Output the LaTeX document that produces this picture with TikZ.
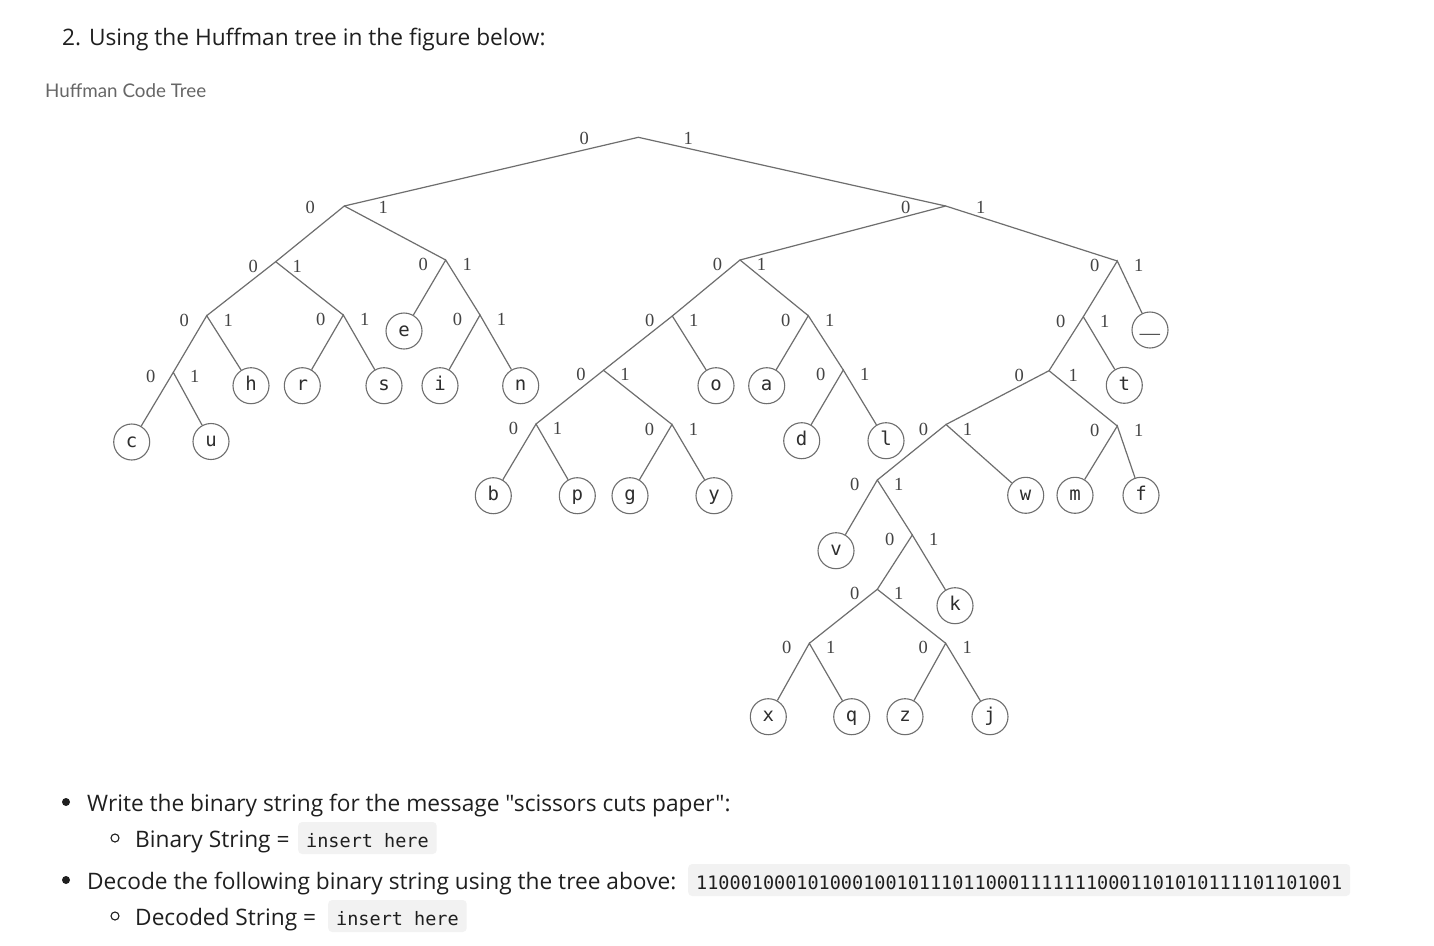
\documentclass[tikz,border=0pt]{standalone}
\usepackage{fontspec}
\usetikzlibrary{calc}
\setmainfont{Open Sans}[Ligatures=TeXOff]
\newfontfamily\capfont{Lato}
\newfontfamily\monofont{DejaVu Sans Mono}
\newfontfamily\bitfont{Liberation Serif}

\definecolor{edgegray}{HTML}{6E6E6E}
\definecolor{leafink}{HTML}{2E2E2E}
\definecolor{bitink}{HTML}{444444}
\definecolor{inkblack}{HTML}{1F1F1F}
\definecolor{capgray}{HTML}{666666}
\definecolor{codebg}{HTML}{F2F2F2}

\tikzset{
  leaf/.style={circle, draw=edgegray, line width=1.1pt, minimum size=36pt, inner sep=0pt,
    text=leafink, font=\monofont\fontsize{19}{19}\selectfont, text height=10.3pt, text depth=0pt},
  branch/.style={draw=edgegray, line width=1.2pt},
  bit/.style={inner sep=0pt, text=bitink, font=\bitfont\fontsize{18.5}{18.5}\selectfont},
  body/.style={anchor=base west, inner sep=0pt, text=inkblack, font=\fontsize{22.7}{22.7}\selectfont},
  codebox/.style={anchor=base west, fill=codebg, rounded corners=4pt, inner xsep=8pt, inner ysep=4pt,
    text height=21pt, text depth=3pt, text=inkblack, font=\monofont\fontsize{18.5}{18.5}\selectfont},
  dotbullet/.style={circle, fill=inkblack, inner sep=0pt, minimum size=8pt},
  ringbullet/.style={circle, draw=inkblack, line width=1.1pt, inner sep=0pt, minimum size=8pt},
}

% 0/1 labels beside a branch point
\newcommand{\bitsat}[5]{%
  \node[bit] (#1-0) at ($(#1)+(#2,#3)$) {0};
  \node[bit] (#1-1) at ($(#1)+(#4,#5)$) {1};}
\newcommand{\bits}[1]{\bitsat{#1}{-22.5}{4.5}{21.5}{4.5}}

\begin{document}
\begin{tikzpicture}[x=1pt, y=-1pt]
  \useasboundingbox[fill=white] (0,0) rectangle (1434,945);

  \node[body] (title) at (62,45) {2. Using the Huffman tree in the figure below:};
  \node[anchor=base west, inner sep=0pt, text=capgray, font=\capfont\fontsize{18.8}{18.8}\selectfont]
    (caption) at (45,97) {Huffman Code Tree};

  % branch points
  \coordinate (root) at (638.3,137.3);
  \coordinate (n0) at (344.3,206);
  \coordinate (n1) at (945.7,206);
  \coordinate (n00) at (275.7,261.7);
  \coordinate (n01) at (445.7,260);
  \coordinate (n000) at (206.7,315.7);
  \coordinate (n001) at (343.3,315);
  \coordinate (n011) at (480,315);
  \coordinate (n0000) at (173.3,372.3);
  \coordinate (n10) at (740,260);
  \coordinate (n11) at (1117.3,261);
  \coordinate (n100) at (672.3,316);
  \coordinate (n101) at (808.3,315.7);
  \coordinate (n1000) at (603.5,370.3);
  \coordinate (n1011) at (843.3,370);
  \coordinate (n10000) at (536,424);
  \coordinate (n10001) at (672,424.5);
  \coordinate (n110) at (1083.3,316.7);
  \coordinate (n1100) at (1049,370.7);
  \coordinate (n11000) at (946,424.5);
  \coordinate (n11001) at (1117.3,426);
  \coordinate (n110000) at (877.3,480);
  \coordinate (n1100001) at (912.3,535);
  \coordinate (n11000010) at (877.3,589.3);
  \coordinate (n110000100) at (809.3,643.3);
  \coordinate (n110000101) at (945.7,643.3);

  % leaves
  \node[leaf] (c) at (131.7,442) {c};
  \node[leaf] (u) at (211,441.5) {u};
  \node[leaf] (h) at (251,385.7) {h};
  \node[leaf] (r) at (302.3,385.7) {r};
  \node[leaf] (s) at (384,385.7) {s};
  \node[leaf] (e) at (404,331) {e};
  \node[leaf] (i) at (440,385.7) {i};
  \node[leaf] (n) at (520.7,385.7) {n};
  \node[leaf] (b) at (493.3,495.7) {b};
  \node[leaf] (p) at (577.3,495.7) {p};
  \node[leaf] (g) at (630,495.7) {g};
  \node[leaf] (y) at (714,495.7) {y};
  \node[leaf] (o) at (716,385.7) {o};
  \node[leaf] (a) at (766.7,385.7) {a};
  \node[leaf] (d) at (801.7,440.7) {d};
  \node[leaf] (l) at (886,440.7) {l};
  \node[leaf] (v) at (836,550.7) {v};
  \node[leaf] (k) at (955,605.7) {k};
  \node[leaf] (x) at (768.3,716.7) {x};
  \node[leaf] (q) at (851.7,716.7) {q};
  \node[leaf] (z) at (905,716.7) {z};
  \node[leaf] (j) at (990,716.7) {j};
  \node[leaf] (w) at (1025.7,495.3) {w};
  \node[leaf] (m) at (1075,495.3) {m};
  \node[leaf] (f) at (1141,495.3) {f};
  \node[leaf] (t) at (1124.3,385.3) {t};
  \node[leaf] (sp) at (1150,330) {\raisebox{6pt}{\scalebox{1.8}[1.3]{\_}}};

  % edges
  \draw[branch] (n0) -- (root) -- (n1);
  \draw[branch] (n00) -- (n0) -- (n01);
  \draw[branch] (n000) -- (n00) -- (n001);
  \draw[branch] (n0000) -- (n000) -- (h);
  \draw[branch] (c) -- (n0000) -- (u);
  \draw[branch] (r) -- (n001) -- (s);
  \draw[branch] (e) -- (n01) -- (n011);
  \draw[branch] (i) -- (n011) -- (n);
  \draw[branch] (n10) -- (n1) -- (n11);
  \draw[branch] (n100) -- (n10) -- (n101);
  \draw[branch] (n1000) -- (n100) -- (o);
  \draw[branch] (n10000) -- (n1000) -- (n10001);
  \draw[branch] (b) -- (n10000) -- (p);
  \draw[branch] (g) -- (n10001) -- (y);
  \draw[branch] (a) -- (n101) -- (n1011);
  \draw[branch] (d) -- (n1011) -- (l);
  \draw[branch] (n110) -- (n11) -- (sp);
  \draw[branch] (n1100) -- (n110) -- (t);
  \draw[branch] (n11000) -- (n1100) -- (n11001);
  \draw[branch] (n110000) -- (n11000) -- (w);
  \draw[branch] (m) -- (n11001) -- (f);
  \draw[branch] (v) -- (n110000) -- (n1100001);
  \draw[branch] (n11000010) -- (n1100001) -- (k);
  \draw[branch] (n110000100) -- (n11000010) -- (n110000101);
  \draw[branch] (x) -- (n110000100) -- (q);
  \draw[branch] (z) -- (n110000101) -- (j);

  % 0/1 labels
  \bitsat{root}{-54}{1}{50}{1}
  \bitsat{n0}{-34}{1.3}{39}{1.3}
  \bitsat{n1}{-40}{1.3}{35}{1.3}
  \bits{n00} \bits{n01} \bits{n000} \bits{n001} \bits{n011} \bits{n0000}
  \bits{n10} \bits{n11} \bits{n100} \bits{n101} \bits{n1000} \bits{n1011}
  \bits{n10000} \bits{n10001} \bits{n110}
  \bitsat{n1100}{-29.7}{4.3}{24.3}{4.3}
  \bits{n11000} \bits{n11001} \bits{n110000} \bits{n1100001}
  \bits{n11000010} \bits{n110000100} \bits{n110000101}

  % questions
  \node[dotbullet] (dot1) at (66,802) {};
  \node[body] (q1) at (87,811) {Write the binary string for the message "scissors cuts paper":};
  \node[ringbullet] (ring1) at (115,838) {};
  \node[body] (a1) at (135,847) {Binary String =};
  \node[codebox] (a1box) at (298,847) {insert here};
  \node[dotbullet] (dot2) at (66,880) {};
  \node[body] (q2) at (87,889) {Decode the following binary string using the tree above:};
  \node[codebox] (q2box) at (688,889) {1100010001010001001011101100011111110001101010111101101001};
  \node[ringbullet] (ring2) at (115,916) {};
  \node[body] (a2) at (135,925) {Decoded String =};
  \node[codebox] (a2box) at (328,925) {insert here};
\end{tikzpicture}
\end{document}
